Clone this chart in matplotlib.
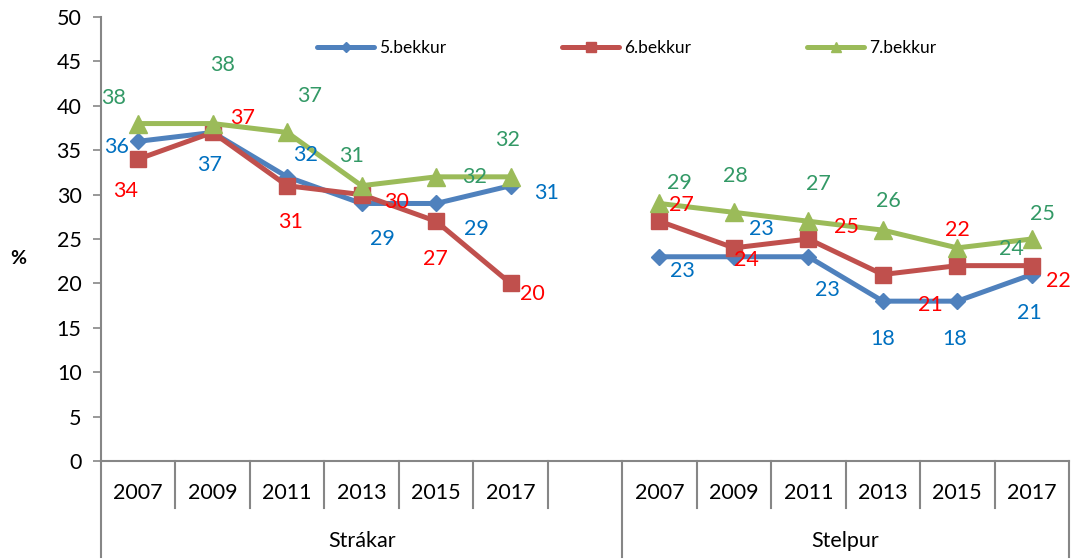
import matplotlib.pyplot as plt

years = ['2007', '2009', '2011', '2013', '2015', '2017']
groups = ['Strákar', 'Stelpur']
series_names = ['5.bekkur', '6.bekkur', '7.bekkur']

b5_strakar = [36, 37, 32, 29, 29, 31]
b5_stelpur = [23, 23, 23, 18, 18, 21]
b6_strakar = [34, 37, 31, 30, 27, 20]
b6_stelpur = [27, 24, 25, 21, 22, 22]
b7_strakar = [38, 38, 37, 31, 32, 32]
b7_stelpur = [29, 28, 27, 26, 24, 25]

# label offsets in pixels (dx right, dy down), Strákar then Stelpur
off5 = [(-22, 6), (-3, 33), (18, -22), (21, 36), (40, 26), (36, 7),
        (23, 14), (28, -28), (19, 33), (0, 38), (-3, 38), (-2, 38)]
off6 = [(-13, 32), (30, -14), (3, 36), (35, 7), (-1, 38), (22, 11),
        (22, -16), (13, 12), (38, -12), (48, 30), (0, -36), (27, 15)]
off7 = [(-25, -26), (10, -59), (22, -36), (-10, -30), (38, 0), (-3, -37),
        (20, -20), (1, -36), (10, -37), (6, -29), (54, 1), (11, -25)]

grey = '#868686'
plt.rcParams['font.family'] = ['Lato', 'DejaVu Sans']

fig = plt.figure(figsize=(10.8, 5.59), dpi=100)
ax = fig.add_axes([101 / 1080, 98 / 559, 968 / 1080, 444 / 559])

x_strakar = list(range(0, 6))
x_stelpur = list(range(7, 13))

series = [
    (series_names[0], b5_strakar, b5_stelpur, '#4F81BD', 'D', 8, '#0070C0', off5),
    (series_names[1], b6_strakar, b6_stelpur, '#C0504D', 's', 12, '#FF0000', off6),
    (series_names[2], b7_strakar, b7_stelpur, '#9BBB59', '^', 13, '#339966', off7),
]

handles = []
for name, vs, vg, col, mk, ms, lcol, offs in series:
    h, = ax.plot(x_strakar, vs, color=col, lw=3.6, marker=mk, ms=ms,
                 solid_capstyle='round', label=name)
    ax.plot(x_stelpur, vg, color=col, lw=3.6, marker=mk, ms=ms,
            solid_capstyle='round')
    handles.append(h)
    for x, v, (dx, dy) in zip(x_strakar + x_stelpur, vs + vg, offs):
        ax.annotate(str(v), (x, v), xytext=(dx, -dy), textcoords='offset pixels',
                    ha='center', va='center', color=lcol, fontsize=15.5,
                    annotation_clip=False)

ax.set_xlim(-0.5, 12.5)
ax.set_ylim(0, 50)
ax.set_yticks(range(0, 51, 5))
ax.set_xticks([])
ax.tick_params(axis='y', length=6, width=1.2, color=grey, pad=8, labelsize=15.5)
for side in ['top', 'right']:
    ax.spines[side].set_visible(False)
for side in ['left', 'bottom']:
    ax.spines[side].set_color(grey)
    ax.spines[side].set_linewidth(1.5)

# two-level category axis
tr = ax.get_xaxis_transform()
for k in range(12):
    if k == 6:
        continue
    ax.plot([k + 0.5, k + 0.5], [0, -47 / 444], transform=tr, color=grey,
            lw=1.5, clip_on=False)
for xb in [-0.5, 6.5, 12.5]:
    ax.plot([xb, xb], [0, -96 / 444], transform=tr, color=grey,
            lw=1.5, clip_on=False)
for x, yr in zip(x_strakar + x_stelpur, years + years):
    ax.text(x, -32 / 444, yr, transform=tr, ha='center', va='center', fontsize=15.5)
ax.text(3, -80 / 444, groups[0], transform=tr, ha='center', va='center', fontsize=15.5)
ax.text(9.5, -80 / 444, groups[1], transform=tr, ha='center', va='center', fontsize=15.5)

fig.text(18 / 1080, 1 - 258 / 559, '%', ha='center', va='center',
         fontsize=14, fontweight='bold')

ax.legend(handles=handles, loc='center left', ncol=3, frameon=False,
          bbox_to_anchor=(317 / 1080, 1 - 48 / 559), bbox_transform=fig.transFigure,
          borderpad=0, borderaxespad=0, handlelength=3.3, handletextpad=0.25,
          columnspacing=6.7, fontsize=12.5, markerscale=0.6)

fig.savefig('out.png', dpi=100)
